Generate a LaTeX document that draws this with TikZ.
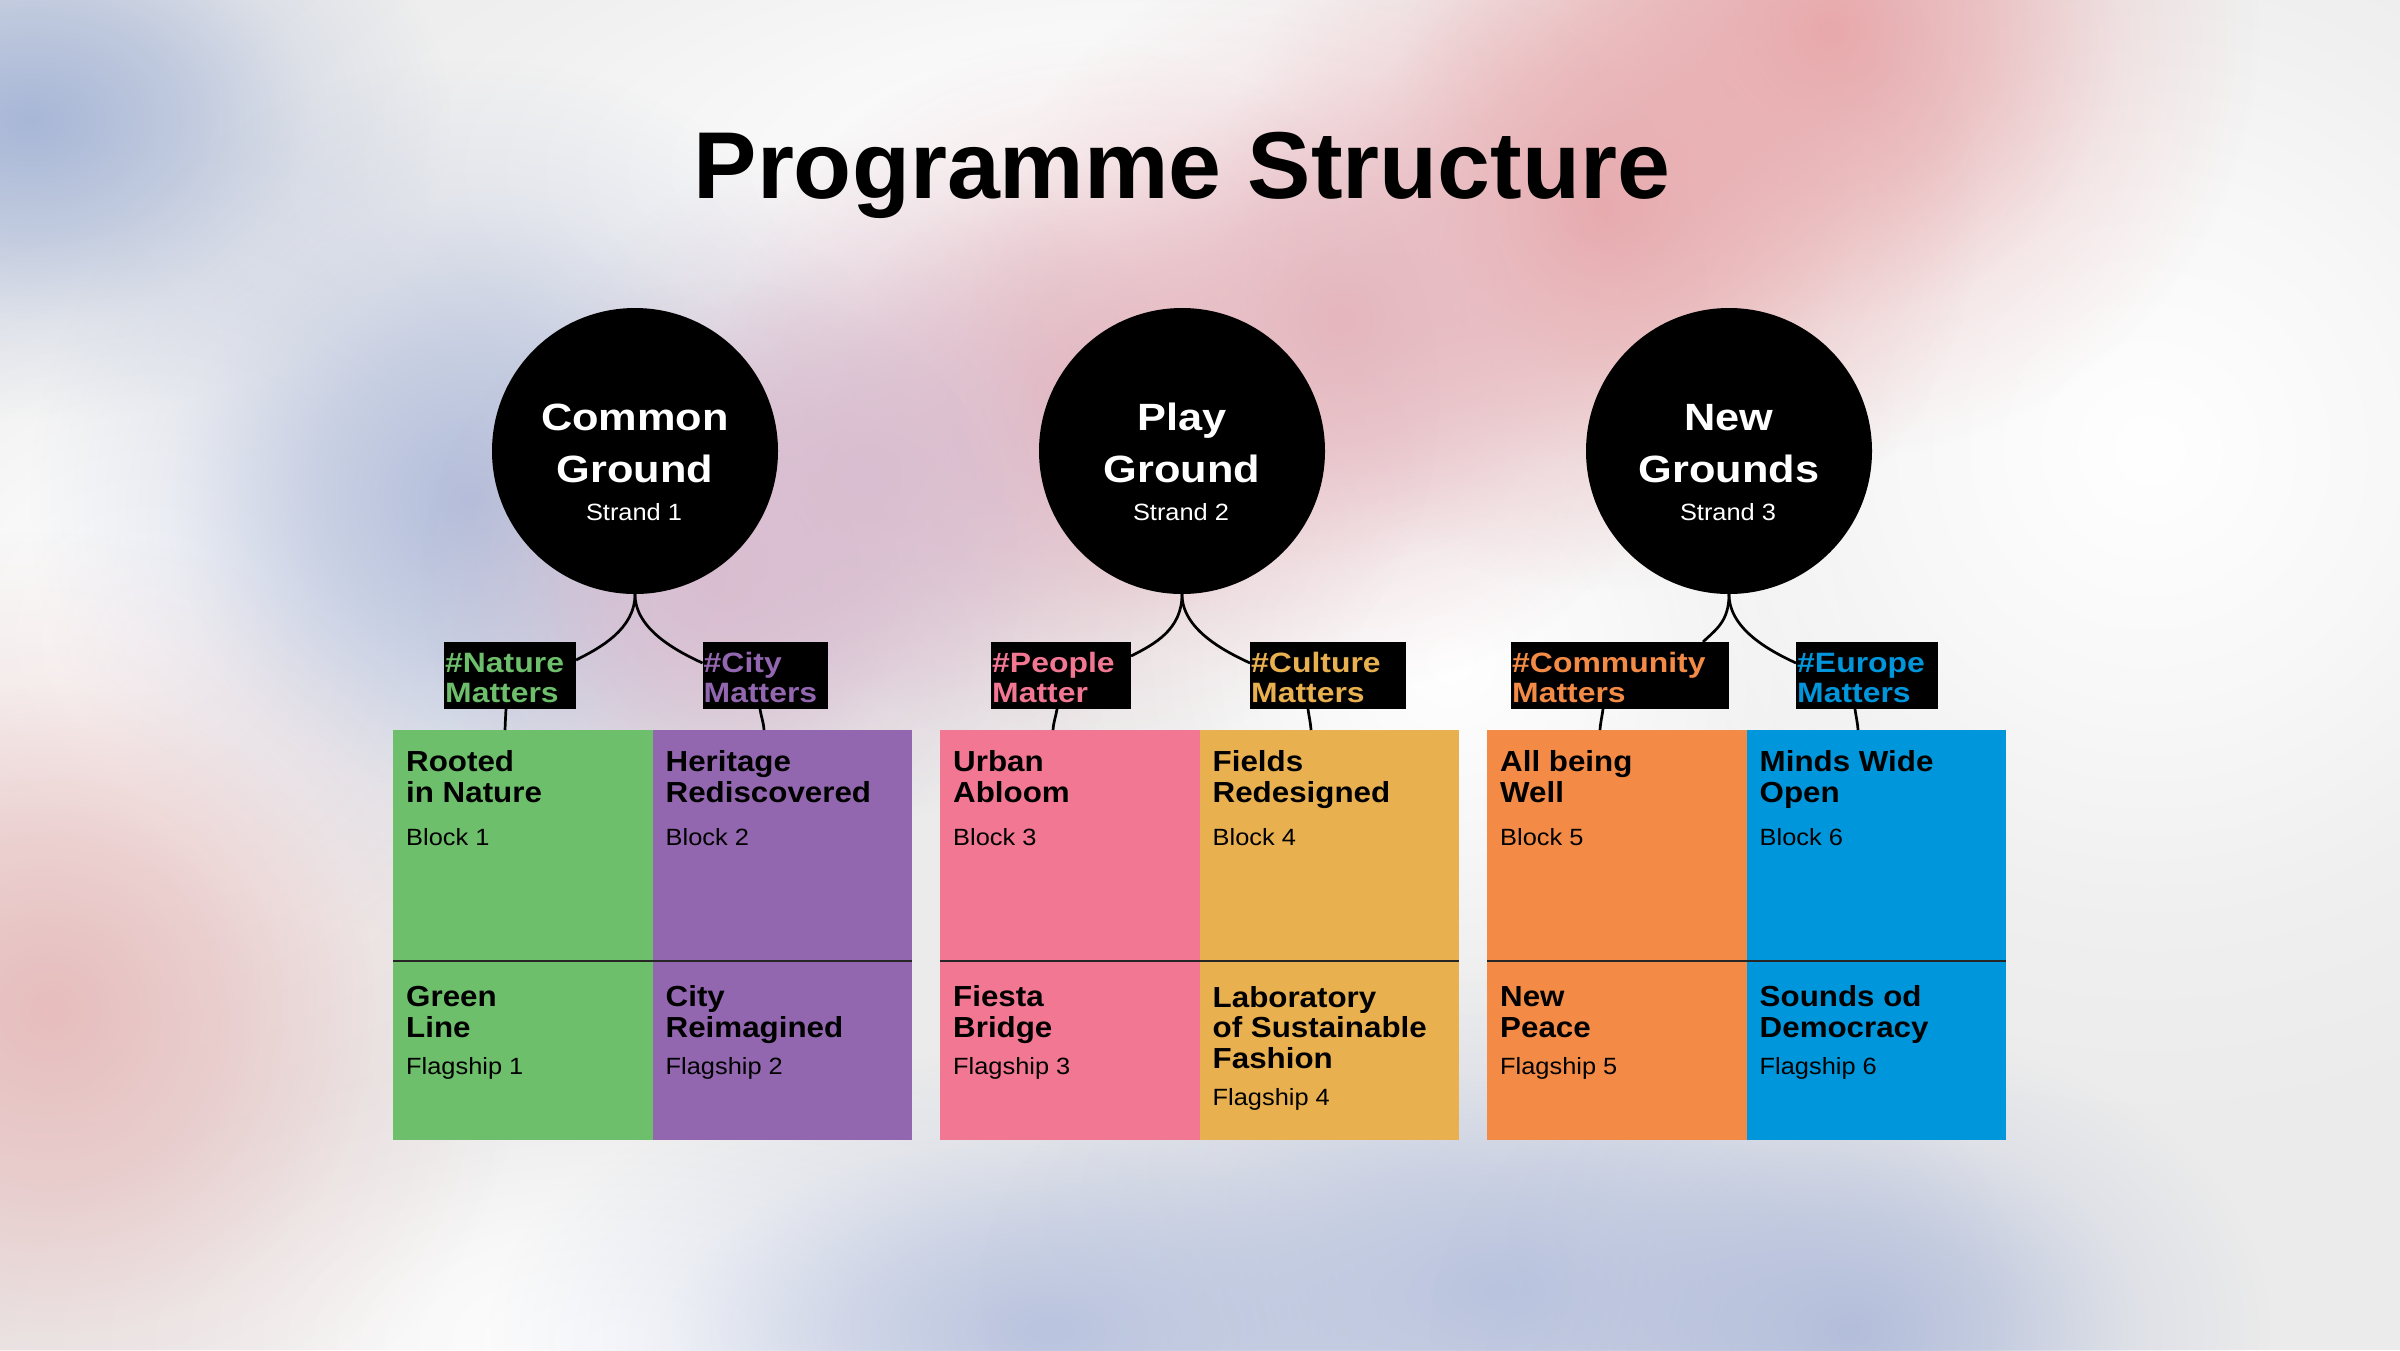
\documentclass[tikz,border=0pt]{standalone}
\usepackage{fontspec}
\setmainfont{Liberation Sans}
\newfontfamily\bodyf[FakeStretch=1.08]{Liberation Sans}
\newfontfamily\widef[FakeStretch=1.14]{Liberation Sans}
\usetikzlibrary{fadings}
\definecolor{cgreen}{HTML}{6DBF6B}
\definecolor{cpurple}{HTML}{9267AF}
\definecolor{cpink}{HTML}{F27792}
\definecolor{cgold}{HTML}{E9B04F}
\definecolor{corange}{HTML}{F38A45}
\definecolor{cblue}{HTML}{0096DB}
\definecolor{bgbase}{HTML}{EBEBEB}
\definecolor{bgblueA}{HTML}{A8B7D7}
\definecolor{bgblueB}{HTML}{B3BEDB}
\definecolor{bgblueC}{HTML}{BAC4DF}
\definecolor{bgpinkA}{HTML}{E8A9AC}
\definecolor{bgpinkB}{HTML}{E5B6BE}
\definecolor{bgpinkC}{HTML}{D9BDD0}
\definecolor{bgpinkD}{HTML}{E7BDBD}
\pgfdeclareradialshading{blobshade}{\pgfpointorigin}{color(0bp)=(white); color(9bp)=(white!65!black); color(17bp)=(white!22!black); color(25bp)=(black); color(50bp)=(black)}
\pgfdeclarefading{blob}{\pgfuseshading{blobshade}}
\tikzset{
 cellbox/.style={anchor=north west, inner sep=0pt, outer sep=0pt, minimum width=259.5pt},
 toprow/.style={cellbox, minimum height=231pt},
 botrow/.style={cellbox, minimum height=179pt},
 ctitle/.style={anchor=base west, inner sep=0pt, align=left, font=\bodyf\bfseries\fontsize{29}{30.5}\selectfont},
 csub/.style={anchor=base west, inner sep=0pt, font=\bodyf\fontsize{23.5}{26}\selectfont},
 strandc/.style={circle, fill=black, minimum size=286pt, inner sep=0pt},
 stitle/.style={anchor=base, inner sep=0pt, text=white, font=\widef\bfseries\fontsize{38}{40}\selectfont},
 ssub/.style={anchor=base, inner sep=0pt, text=white, font=\bodyf\fontsize{23.5}{26}\selectfont},
 tagbox/.style={fill=black, anchor=north west, inner sep=0pt, outer sep=0pt, minimum height=67pt},
 tagtext/.style={anchor=base west, inner sep=0pt, align=left, font=\widef\bfseries\fontsize{28}{30}\selectfont},
 conn/.style={draw=black, line width=2.7pt},
 divider/.style={draw=black!85, line width=2pt},
 blobf/.style={path fading=blob}
}
\begin{document}
\begin{tikzpicture}[x=1pt,y=-1pt]
\useasboundingbox (0,0) rectangle (2400,1350);
% background
\fill[bgbase] (0,0) rectangle (2400,1350);
\fill[white, blobf] (1150,170) ellipse [x radius=1100pt, y radius=420pt];
\fill[white, blobf] (150,640) circle [radius=520pt];
\fill[white, blobf] (2150,450) circle [radius=700pt];
\fill[white, blobf] (620,1340) ellipse [x radius=650pt, y radius=300pt];
\fill[white, blobf] (1450,660) circle [radius=450pt];
\fill[bgblueA, blobf] (30,120) ellipse [x radius=420pt, y radius=300pt];
\fill[bgblueB, blobf] (470,500) circle [radius=440pt];
\fill[bgpinkA, blobf] (1830,30) circle [radius=430pt];
\fill[bgpinkA, blobf] (1600,210) circle [radius=380pt];
\fill[bgpinkB, blobf] (1340,320) circle [radius=370pt];
\fill[bgpinkB, blobf] (1080,400) circle [radius=360pt];
\fill[bgpinkC, blobf] (860,480) circle [radius=340pt];
\fill[bgpinkC, blobf] (720,580) circle [radius=300pt];
\fill[bgpinkD, blobf] (50,1010) circle [radius=480pt];
\fill[bgblueC, blobf] (1050,1330) ellipse [x radius=560pt, y radius=280pt];
\fill[bgblueC, blobf] (1500,1290) ellipse [x radius=520pt, y radius=320pt];
\fill[bgblueB, blobf] (1850,1330) ellipse [x radius=420pt, y radius=300pt];

% title
\node[anchor=base, inner sep=0pt, font=\bfseries\fontsize{95}{100}\selectfont] (title) at (1182,198) {Programme Structure};

% strands
\node[strandc] (c1) at (635,451) {};
\node[strandc] (c2) at (1182,451) {};
\node[strandc] (c3) at (1729,451) {};
\node[stitle] (c1a) at (635,430) {Common};
\node[stitle] (c1b) at (635,482) {Ground};
\node[ssub] (c1c) at (634,520) {Strand 1};
\node[stitle] (c2a) at (1182,430) {Play};
\node[stitle] (c2b) at (1182,482) {Ground};
\node[ssub] (c2c) at (1181,520) {Strand 2};
\node[stitle] (c3a) at (1729,430) {New};
\node[stitle] (c3b) at (1729,482) {Grounds};
\node[ssub] (c3c) at (1728,520) {Strand 3};

% cells
\node[toprow, fill=cgreen] (r1) at (393,730) {};
\node[toprow, fill=cpurple] (r2) at (652.5,730) {};
\node[toprow, fill=cpink] (r3) at (940,730) {};
\node[toprow, fill=cgold] (r4) at (1199.5,730) {};
\node[toprow, fill=corange] (r5) at (1487,730) {};
\node[toprow, fill=cblue] (r6) at (1746.5,730) {};
\node[botrow, fill=cgreen] (f1) at (393,961) {};
\node[botrow, fill=cpurple] (f2) at (652.5,961) {};
\node[botrow, fill=cpink] (f3) at (940,961) {};
\node[botrow, fill=cgold] (f4) at (1199.5,961) {};
\node[botrow, fill=corange] (f5) at (1487,961) {};
\node[botrow, fill=cblue] (f6) at (1746.5,961) {};
\draw[divider] (r1.south west) -- (r2.south east);
\draw[divider] (r3.south west) -- (r4.south east);
\draw[divider] (r5.south west) -- (r6.south east);

% cell texts (anchor = baseline of last line)
\node[ctitle] (r1t) at (406,802) {Rooted\\in Nature};
\node[csub] (r1s) at (406,845) {Block 1};
\node[ctitle] (r2t) at (665.5,802) {Heritage\\Rediscovered};
\node[csub] (r2s) at (665.5,845) {Block 2};
\node[ctitle] (r3t) at (953,802) {Urban\\Abloom};
\node[csub] (r3s) at (953,845) {Block 3};
\node[ctitle] (r4t) at (1212.5,802) {Fields\\Redesigned};
\node[csub] (r4s) at (1212.5,845) {Block 4};
\node[ctitle] (r5t) at (1500,802) {All being\\Well};
\node[csub] (r5s) at (1500,845) {Block 5};
\node[ctitle] (r6t) at (1759.5,802) {Minds Wide\\Open};
\node[csub] (r6s) at (1759.5,845) {Block 6};

\node[ctitle] (f1t) at (406,1037) {Green\\Line};
\node[csub] (f1s) at (406,1074) {Flagship 1};
\node[ctitle] (f2t) at (665.5,1037) {City\\Reimagined};
\node[csub] (f2s) at (665.5,1074) {Flagship 2};
\node[ctitle] (f3t) at (953,1037) {Fiesta\\Bridge};
\node[csub] (f3s) at (953,1074) {Flagship 3};
\node[ctitle] (f4t) at (1212.5,1068) {Laboratory\\of Sustainable\\Fashion};
\node[csub] (f4s) at (1212.5,1105) {Flagship 4};
\node[ctitle] (f5t) at (1500,1037) {New\\Peace};
\node[csub] (f5s) at (1500,1074) {Flagship 5};
\node[ctitle] (f6t) at (1759.5,1037) {Sounds od\\Democracy};
\node[csub] (f6s) at (1759.5,1074) {Flagship 6};

% tags
\node[tagbox, minimum width=132pt] (t1) at (444,642) {};
\node[tagbox, minimum width=125pt] (t2) at (702.5,642) {};
\node[tagbox, minimum width=140pt] (t3) at (991,642) {};
\node[tagbox, minimum width=156pt] (t4) at (1250,642) {};
\node[tagbox, minimum width=218pt] (t5) at (1511,642) {};
\node[tagbox, minimum width=142pt] (t6) at (1796,642) {};
\node[tagtext, text=cgreen] (t1x) at (445,702) {\#Nature\\Matters};
\node[tagtext, text=cpurple] (t2x) at (703.5,702) {\#City\\Matters};
\node[tagtext, text=cpink] (t3x) at (992,702) {\#People\\Matter};
\node[tagtext, text=cgold] (t4x) at (1251,702) {\#Culture\\Matters};
\node[tagtext, text=corange] (t5x) at (1512,702) {\#Community\\Matters};
\node[tagtext, text=cblue] (t6x) at (1797,702) {\#Europe\\Matters};

% connectors circle -> tags
\draw[conn] (c1.south) .. controls +(0,35) and +(24,-12) .. ([yshift=-18pt]t1.north east);
\draw[conn] (c1.south) .. controls +(0,35) and +(-26,-12) .. ([yshift=-21pt]t2.north west);
\draw[conn] (c2.south) .. controls +(0,35) and +(24,-12) .. ([yshift=-14pt]t3.north east);
\draw[conn] (c2.south) .. controls +(0,35) and +(-26,-12) .. ([yshift=-21pt]t4.north west);
\draw[conn] (c3.south) .. controls +(0,28) and +(12,-12) .. ([xshift=-26pt]t5.north east);
\draw[conn] (c3.south) .. controls +(0,35) and +(-26,-12) .. ([yshift=-21pt]t6.north west);

% connectors tags -> cells
\draw[conn] ([xshift=62pt]t1.south west) .. controls +(-0.5,9) and +(0.3,-8) .. ([xshift=61pt]t1.south west |- r1.north);
\draw[conn] ([xshift=57.5pt]t2.south west) .. controls +(1.5,9) and +(-0.5,-8) .. ([xshift=61.5pt]t2.south west |- r2.north);
\draw[conn] ([xshift=66pt]t3.south west) .. controls +(-1.5,9) and +(0.5,-8) .. ([xshift=62pt]t3.south west |- r3.north);
\draw[conn] ([xshift=58pt]t4.south west) .. controls +(1.2,9) and +(-0.5,-8) .. ([xshift=61pt]t4.south west |- r4.north);
\draw[conn] ([xshift=92pt]t5.south west) .. controls +(-1.2,9) and +(0.5,-8) .. ([xshift=89pt]t5.south west |- r5.north);
\draw[conn] ([xshift=59pt]t6.south west) .. controls +(1.2,9) and +(-0.5,-8) .. ([xshift=62pt]t6.south west |- r6.north);
\end{tikzpicture}
\end{document}
